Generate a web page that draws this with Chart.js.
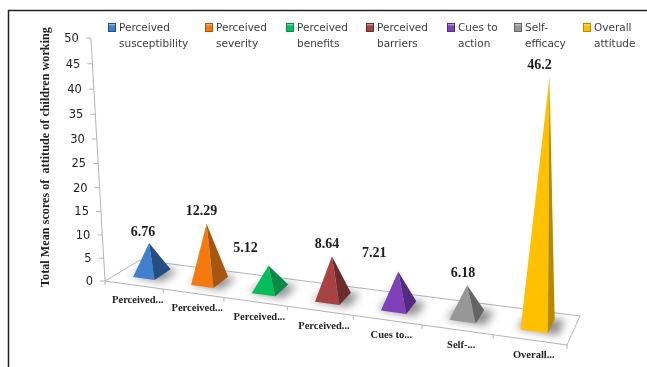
<!DOCTYPE html>
<html>
<head>
<meta charset="utf-8">
<title>Total mean scores of attitude</title>
<script src="https://cdn.jsdelivr.net/npm/chart.js@4"></script>
<style>
  html, body { margin: 0; padding: 0; background: #fff; }
  canvas { display: block; }
</style>
</head>
<body>
<canvas id="myChart" width="647" height="367"></canvas>
<script>
const categories = ['Perceived susceptibility', 'Perceived severity', 'Perceived benefits', 'Perceived barriers', 'Cues to action', 'Self-efficacy', 'Overall attitude'];
const meanScores = [6.76, 12.29, 5.12, 8.64, 7.21, 6.18, 46.2];
const tickLabels = ['Perceived...', 'Perceived...', 'Perceived...', 'Perceived...', 'Cues to...', 'Self-...', 'Overall...'];
const legendLines = [['Perceived', 'susceptibility'], ['Perceived', 'severity'], ['Perceived', 'benefits'], ['Perceived', 'barriers'], ['Cues to', 'action'], ['Self-', 'efficacy'], ['Overall', 'attitude']];
const faceColors = ['#4080cc', '#f47a10', '#05bd5a', '#a84242', '#8040b8', '#979797', '#ffc000'];
const sideColors = ['#254f84', '#a85510', '#078a45', '#6e2b2b', '#552a80', '#646464', '#b58900'];
const axisTitle = 'Total Mean scores of  attitude of children working';

// floor of the 3d box, corners in canvas pixels
const floorFront = { x0: 105, y0: 281, x1: 567, y1: 345 };
const floorBack = { x0: 140, y0: 260, x1: 580, y1: 316 };
const legendX = [108, 205, 286, 366, 447, 514, 583];
const labelNudge = [[-6, -11], [-5, -12], [-23, -17], [-5, -12], [-24, -18], [-4, -12], [-10, -12]];

function edgePoint(edge, u) {
    // columns get wider toward the right hand end
    const x = edge.x0 + (edge.x1 - edge.x0) * u - 64 * u * (1 - u);
    const y = edge.y0 + (edge.y1 - edge.y0) * (x - edge.x0) / (edge.x1 - edge.x0);
    return { x, y };
}

function floorPoint(u, d) {
    const f = edgePoint(floorFront, u);
    const b = edgePoint(floorBack, u);
    return { x: f.x + (b.x - f.x) * d, y: f.y + (b.y - f.y) * d };
}

// height in pixels above the floor for a y scale pixel
function riseFor(yScale, py) {
    const t = (yScale.bottom - py) / (yScale.bottom - yScale.top);
    return yScale.bottom - py - 16 * t * (1 - t);
}

function raised(pt, rise, grow) {
    const lean = -0.058 + (pt.x - 105) * 0.00025;
    return { x: pt.x + lean * rise * grow, y: pt.y - rise * grow };
}

function poly(ctx, pts, color) {
    ctx.beginPath();
    pts.forEach((p, i) => i ? ctx.lineTo(p.x, p.y) : ctx.moveTo(p.x, p.y));
    ctx.closePath();
    ctx.fillStyle = color;
    ctx.fill();
}

const pyramidPlugin = {
    id: 'pyramids',
    beforeDraw(chart) {
        const ctx = chart.ctx;
        const yScale = chart.scales.y;

        ctx.save();
        ctx.fillStyle = '#fff';
        ctx.fillRect(0, 0, chart.width, chart.height);

        // outer frame, runs off the right and the bottom
        ctx.strokeStyle = '#222';
        ctx.lineWidth = 1.5;
        ctx.beginPath();
        ctx.moveTo(8.5, 367);
        ctx.lineTo(8.5, 10.5);
        ctx.lineTo(647, 10.5);
        ctx.stroke();

        // floor
        ctx.strokeStyle = '#b4b4b4';
        ctx.lineWidth = 1;
        ctx.beginPath();
        ctx.moveTo(floorFront.x0, floorFront.y0);
        ctx.lineTo(floorFront.x1, floorFront.y1);
        ctx.lineTo(floorBack.x1, floorBack.y1);
        ctx.lineTo(floorBack.x0, floorBack.y0);
        ctx.closePath();
        ctx.stroke();

        // front edge tick marks
        for (let i = 0; i <= categories.length; i++) {
            const p = edgePoint(floorFront, i / categories.length);
            ctx.beginPath();
            ctx.moveTo(p.x, p.y);
            ctx.lineTo(p.x, p.y + 4);
            ctx.stroke();
        }

        // value axis
        const origin = { x: floorFront.x0, y: floorFront.y0 };
        const top = raised(origin, riseFor(yScale, yScale.getPixelForValue(50)), 1);
        ctx.beginPath();
        ctx.moveTo(origin.x, origin.y);
        ctx.lineTo(top.x, top.y);
        ctx.stroke();

        ctx.font = '11.5px "DejaVu Sans"';
        ctx.textAlign = 'right';
        ctx.textBaseline = 'middle';
        yScale.ticks.forEach((tick) => {
            const p = raised(origin, riseFor(yScale, yScale.getPixelForValue(tick.value)), 1);
            ctx.beginPath();
            ctx.moveTo(p.x - 5, p.y);
            ctx.lineTo(p.x, p.y);
            ctx.stroke();
            ctx.fillStyle = '#222';
            ctx.fillText(String(tick.value), p.x - 12, p.y + 1);
        });

        // axis title
        ctx.save();
        ctx.translate(46, 157);
        ctx.rotate(-Math.PI / 2);
        ctx.textAlign = 'center';
        ctx.fillStyle = '#222';
        ctx.font = 'bold 12.2px "Liberation Serif"';
        ctx.fillText(axisTitle, 0, 0);
        ctx.restore();

        // category labels under the front edge
        ctx.font = 'bold 10.5px "Liberation Serif"';
        ctx.textAlign = 'center';
        ctx.fillStyle = '#222';
        tickLabels.forEach((label, i) => {
            const p = edgePoint(floorFront, (i + 0.5) / categories.length);
            ctx.fillText(label, p.x + 4, p.y + 15);
        });

        // legend across the top, two lines per entry
        legendLines.forEach((lines, i) => {
            const x = legendX[i];
            const grad = ctx.createLinearGradient(0, 23, 0, 32);
            grad.addColorStop(0, '#dfe6ee');
            grad.addColorStop(0.35, faceColors[i]);
            grad.addColorStop(1, faceColors[i]);
            ctx.fillStyle = grad;
            ctx.fillRect(x, 23, 8, 9);
            ctx.strokeStyle = sideColors[i];
            ctx.lineWidth = 1;
            ctx.strokeRect(x + 0.5, 23.5, 7, 8);
            ctx.fillStyle = '#3c3c3c';
            ctx.font = '10.5px "DejaVu Sans"';
            ctx.textAlign = 'left';
            lines.forEach((line, n) => ctx.fillText(line, x + 11, 28 + n * 16.5));
        });
        ctx.restore();
    },
    // bars are replaced by pyramids, so skip the normal rectangle drawing
    beforeDatasetDraw(chart, args) {
        const ctx = chart.ctx;
        const xScale = chart.scales.x;
        const yScale = chart.scales.y;
        const halfW = 0.0268;
        const d0 = 0.3;
        const d1 = 0.79;

        args.meta.data.forEach((bar, i) => {
            const u = (bar.x - xScale.left) / xScale.width;
            const left = floorPoint(u - halfW, d0);
            const front = floorPoint(u + halfW, d0);
            const right = floorPoint(u + halfW, d1);
            const back = floorPoint(u - halfW, d1);
            const centre = floorPoint(u, 0.5);
            const apex = raised(centre, riseFor(yScale, bar.y), 1 + 0.12 * u);

            // soft shadow on the floor
            ctx.save();
            ctx.filter = 'blur(4px)';
            poly(ctx, [floorPoint(u - halfW - 0.008, d0 + 0.04), floorPoint(u + halfW + 0.02, d0 - 0.02), floorPoint(u + halfW + 0.02, d1), back], 'rgba(60,60,60,0.6)');
            ctx.restore();

            poly(ctx, [left, front, apex], faceColors[i]);
            poly(ctx, [front, right, apex], sideColors[i]);

            ctx.save();
            ctx.font = 'bold 14px "Liberation Serif"';
            ctx.textAlign = 'center';
            ctx.textBaseline = 'middle';
            ctx.fillStyle = '#1c1c1c';
            ctx.fillText(String(meanScores[i]), apex.x + labelNudge[i][0], apex.y + labelNudge[i][1]);
            ctx.restore();
        });
        return false;
    }
};

const ctx = document.getElementById('myChart').getContext('2d');

const chart = new Chart(ctx, {
    type: 'bar',
    data: {
        labels: categories,
        datasets: [{
            label: 'Total mean score',
            data: meanScores,
            backgroundColor: faceColors
        }]
    },
    options: {
        responsive: false,
        animation: false,
        layout: { padding: { left: 105, right: 80, top: 38, bottom: 86 } },
        plugins: {
            legend: { display: false },
            tooltip: { enabled: false }
        },
        scales: {
            x: { display: false },
            y: { display: false, min: 0, max: 50, ticks: { stepSize: 5 } }
        }
    },
    plugins: [pyramidPlugin]
});
</script>
</body>
</html>
